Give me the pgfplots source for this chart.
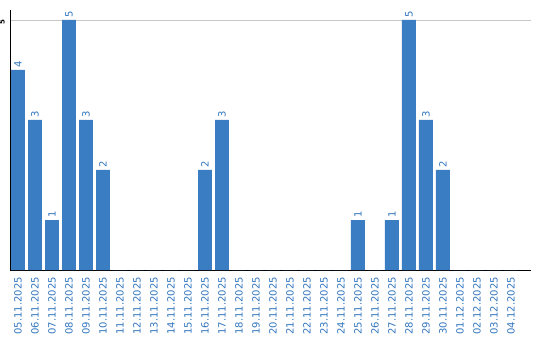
\documentclass[border=0pt]{standalone}
\usepackage{pgfplots}
\pgfplotsset{compat=1.18}
\usepackage{fontspec}
\setmainfont{DejaVu Sans}
\definecolor{barblue}{RGB}{59,125,195}
\definecolor{labblue}{RGB}{50,118,190}
\begin{document}
\begin{tikzpicture}
\path[use as bounding box] (0,0) rectangle (540pt,340pt);
\begin{axis}[
  at={(10.3pt,70pt)}, anchor=south west,
  scale only axis, width=520.7pt, height=260pt,
  xmin=-0.453, xmax=30.18, ymin=0, ymax=5.2,
  axis lines*=left,
  axis line style={black, line width=0.9pt},
  ybar, bar width=0.82, bar shift=0pt,
  /pgf/number format/assume math mode=true,
  xtick={0,...,29},
  xticklabels={05.11.2025,06.11.2025,07.11.2025,08.11.2025,09.11.2025,10.11.2025,11.11.2025,12.11.2025,13.11.2025,14.11.2025,15.11.2025,16.11.2025,17.11.2025,18.11.2025,19.11.2025,20.11.2025,21.11.2025,22.11.2025,23.11.2025,24.11.2025,25.11.2025,26.11.2025,27.11.2025,28.11.2025,29.11.2025,30.11.2025,01.12.2025,02.12.2025,03.12.2025,04.12.2025},
  xticklabel style={rotate=90, anchor=east, font=\fontsize{10}{12}\selectfont, text=labblue, inner sep=0pt, xshift=-7pt},
  ytick={5},
  yticklabel style={rotate=90, anchor=south, font=\fontsize{7}{8}\selectfont\bfseries, inner sep=0pt, xshift=-2.5pt, yshift=5.5pt},
  major tick length=0pt,
  ymajorgrids, grid style={line width=0.8pt, color=black!22},
  nodes near coords={\pgfmathfloatifflags{\pgfplotspointmeta}{0}{}{\pgfmathprintnumber{\pgfplotspointmeta}}},
  every node near coord/.append style={rotate=90, anchor=west, font=\fontsize{10}{12}\selectfont, text=labblue, inner sep=0pt, xshift=2pt},
  clip=false,
]
\addplot[fill=barblue, draw=none] coordinates {
(0,4) (1,3) (2,1) (3,5) (4,3) (5,2) (6,0) (7,0) (8,0) (9,0)
(10,0) (11,2) (12,3) (13,0) (14,0) (15,0) (16,0) (17,0) (18,0) (19,0)
(20,1) (21,0) (22,1) (23,5) (24,3) (25,2) (26,0) (27,0) (28,0) (29,0)
};
\end{axis}
\end{tikzpicture}
\end{document}
